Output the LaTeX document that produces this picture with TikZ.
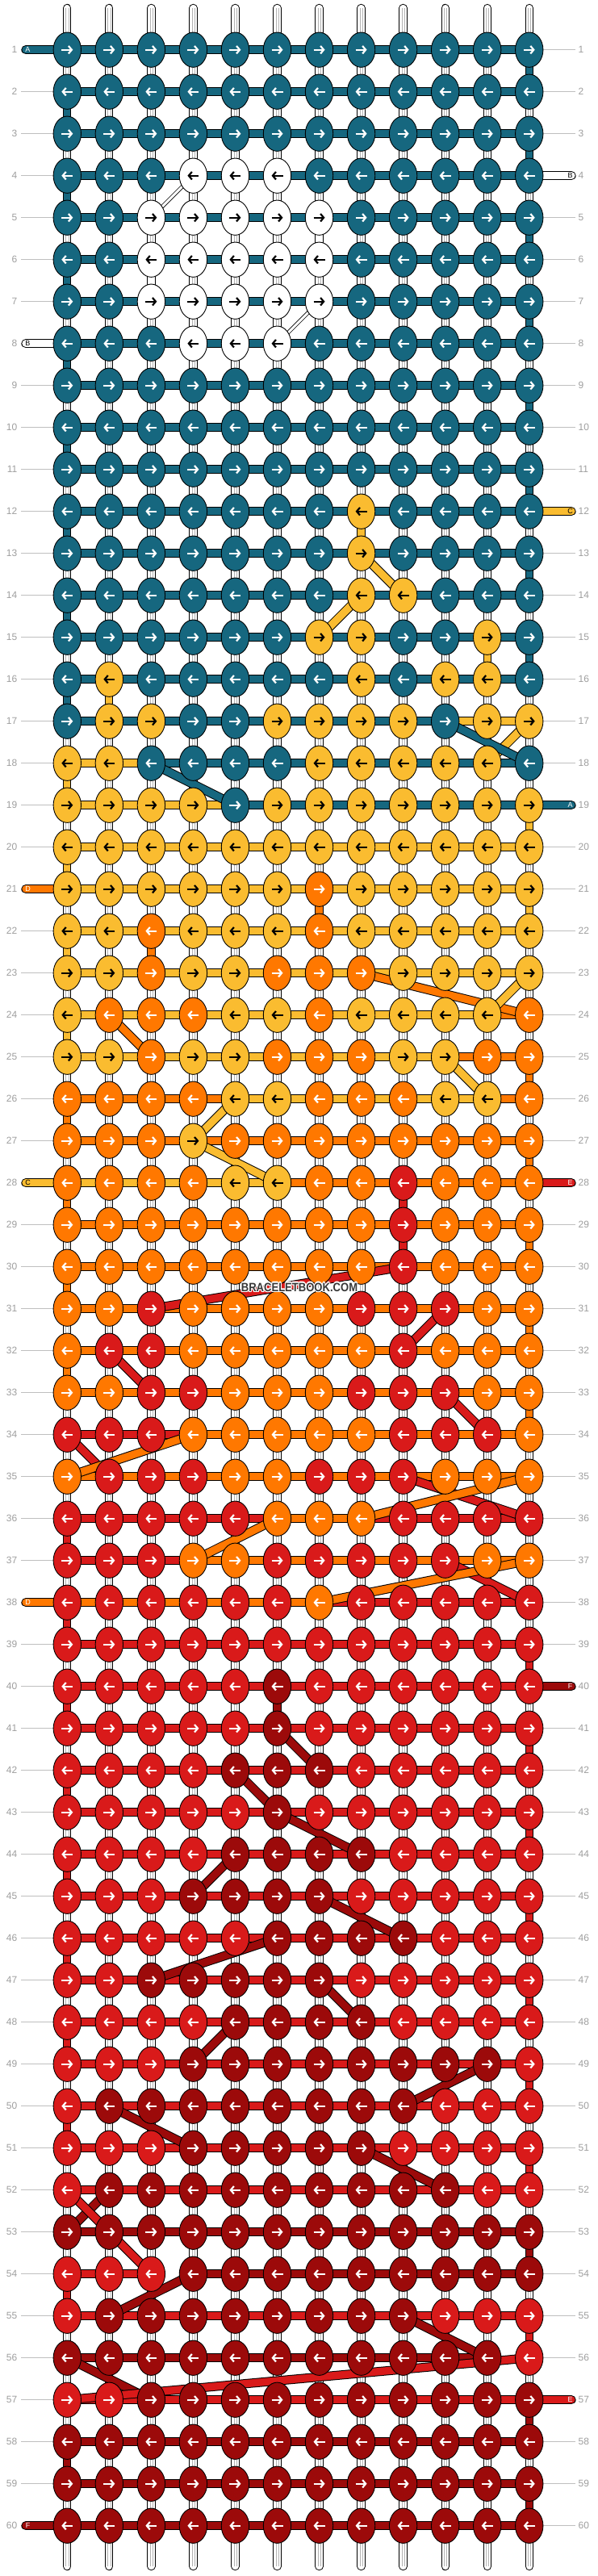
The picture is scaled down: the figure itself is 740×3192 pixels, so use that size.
\documentclass[tikz,border=0pt]{standalone}
\usepackage{fontspec}
\setmainfont{Liberation Sans}
\usetikzlibrary{arrows.meta,shapes.geometric}
\definecolor{cT}{HTML}{16677F}
\definecolor{cW}{HTML}{FFFFFF}
\definecolor{cY}{HTML}{FABC30}
\definecolor{cO}{HTML}{FF7800}
\definecolor{cR}{HTML}{D91A1A}
\definecolor{cD}{HTML}{9C0A0A}
\colorlet{aT}{white}\colorlet{aW}{black}\colorlet{aY}{black}
\colorlet{aO}{white}\colorlet{aR}{white}\colorlet{aD}{white}

\begin{document}
\begin{tikzpicture}[x=1pt, y=-1pt, every node/.style={font=\fontsize{12}{12}\selectfont}]
\tikzstyle{knot}=[draw, ellipse, line width=0.9pt, minimum width=34.4pt, minimum height=43.3pt, inner sep=0pt]
\tikzstyle{band}=[line width=1pt, double distance=9.3pt, line cap=round]
\tikzstyle{vband}=[line width=1pt, double distance=8.3pt, line cap=round]
\tikzstyle{slim}=[line width=0.8pt, double distance=3pt]
\tikzstyle{pin}=[line width=2.2pt, -{Straight Barb[length=4pt,width=9.5pt]}]
\tikzstyle{num}=[text=black!38, inner sep=0pt]
\tikzstyle{tick}=[black!25, line width=0.9pt]
\useasboundingbox (0,0) rectangle (740,3192);

\foreach \r in {1,...,60}{
  \pgfmathsetmacro\y{61.7+(\r-1)*52}
  \coordinate (p-\r-0) at (32,\y);
  \coordinate (p-\r-13) at (708,\y);
  \foreach \c in {1,...,12}
    \coordinate (p-\r-\c) at ({83.3+(\c-1)*52.04},\y);
  \node[num, anchor=east] (ln-\r) at (21.5,\y) {\r};
  \node[num, anchor=west] (rn-\r) at (716.5,\y) {\r};
  \draw[tick] ([xshift=4.5pt]ln-\r.east) -- ([xshift=-17pt]p-\r-1);
  \draw[tick] ([xshift=17pt]p-\r-12) -- ([xshift=-3.5pt]rn-\r.west);
}

\foreach \c in {1,...,12}{
  \coordinate (top-\c) at ({83.3+(\c-1)*52.04},10);
  \coordinate (bot-\c) at ({83.3+(\c-1)*52.04},3180);
  \draw[vband, double=white] (top-\c) -- (bot-\c);
  \draw[black!30, line width=0.5pt] ([xshift=-1.6pt]top-\c) -- ([xshift=-1.6pt]bot-\c);
  \draw[black!30, line width=0.5pt] ([xshift=1.6pt]top-\c) -- ([xshift=1.6pt]bot-\c);
}

\foreach \r/\s/\k in {1/16/T, 18/22/Y, 24/24/Y, 25/33/O, 36/36/R, 38/51/R, 54/55/R, 53/53/D, 57/59/D}
  \foreach \i in {\r,...,\s}{
    \pgfmathtruncatemacro\j{\i+1}
    \pgfmathtruncatemacro\c{mod(\i,2)==1 ? 12 : 1}
    \draw[vband, double=c\k] (p-\i-\c) -- (p-\j-\c);
  }
\foreach \r/\c/\k in {5/7/W, 6/3/W, 12/8/Y, 15/11/Y, 16/2/Y, 21/7/O, 22/3/O, 28/9/R, 29/9/R, 40/6/D}{
  \pgfmathtruncatemacro\j{\r+1}
  \draw[vband, double=c\k] (p-\r-\c) -- (p-\j-\c);
}

\foreach \r/\s/\a/\b/\k in {40/40/6/13/D, 42/42/5/7/D, 44/44/5/8/D, 45/45/4/7/D, 46/46/6/9/D,
    47/47/3/7/D, 48/48/5/8/D, 49/49/4/11/D, 50/50/2/9/D, 51/51/4/8/D, 52/52/2/10/D, 53/53/1/12/D,
    54/54/4/12/D, 55/55/2/9/D, 56/56/1/11/D, 57/57/3/12/D, 58/59/1/12/D, 60/60/0/12/D,
    28/28/9/13/R, 31/31/3/10/R, 32/32/2/9/R, 33/33/3/10/R, 34/34/1/11/R, 35/35/2/9/R, 36/36/1/12/R,
    37/37/1/10/R, 38/52/1/12/R, 54/54/1/3/R, 55/55/1/12/R, 57/57/1/13/R,
    21/21/0/7/O, 22/22/3/7/O, 23/23/3/8/O, 24/24/2/12/O, 25/25/3/12/O, 26/33/1/12/O, 34/34/4/12/O,
    35/35/1/12/O, 36/36/6/8/O, 37/37/4/12/O, 38/38/0/7/O,
    12/12/8/13/Y, 14/14/8/9/Y, 15/15/7/11/Y, 16/16/2/11/Y, 17/17/2/12/Y, 18/18/1/11/Y, 19/23/1/12/Y,
    24/24/1/11/Y, 25/25/1/10/Y, 26/26/5/11/Y, 28/28/0/6/Y,
    4/4/4/13/W, 5/7/3/7/W, 8/8/0/6/W,
    1/1/0/12/T, 2/16/1/12/T, 17/17/1/10/T, 18/18/3/12/T, 19/19/5/13/T}
  \foreach \i in {\r,...,\s}
    \draw[band, double=c\k] (p-\i-\a) -- (p-\i-\b);

\foreach \r/\c/\s/\d/\k in {41/6/42/7/D, 42/5/43/6/D, 43/6/44/8/D, 44/5/45/4/D, 45/7/46/9/D, 46/6/47/3/D,
    47/7/48/8/D, 48/5/49/4/D, 49/11/50/9/D, 50/2/51/4/D, 51/8/52/10/D, 52/2/53/1/D, 54/4/55/2/D,
    55/9/56/11/D, 56/1/57/3/D,
    30/9/31/3/R, 31/10/32/9/R, 32/2/33/3/R, 33/10/34/11/R, 34/1/35/2/R, 35/9/36/12/R, 37/10/38/12/R,
    52/1/54/3/R, 56/12/57/1/R,
    23/8/24/12/O, 24/2/25/3/O, 34/4/35/1/O, 35/12/36/8/O, 36/6/37/4/O, 37/12/38/7/O,
    13/8/14/9/Y, 14/8/15/7/Y, 17/12/18/11/Y, 23/12/24/11/Y, 25/10/26/11/Y, 26/5/27/4/Y, 27/4/28/6/Y,
    17/10/18/12/T, 18/3/19/5/T}
  \draw[band, double=c\k] (p-\r-\c) -- (p-\s-\d);
\draw[slim, double=white] (p-4-4) -- (p-5-3);
\draw[slim, double=white] (p-7-7) -- (p-8-6);

\foreach \r/\ks in {
  1/{T,T,T,T,T,T,T,T,T,T,T,T}, 2/{T,T,T,T,T,T,T,T,T,T,T,T}, 3/{T,T,T,T,T,T,T,T,T,T,T,T},
  4/{T,T,T,W,W,W,T,T,T,T,T,T}, 5/{T,T,W,W,W,W,W,T,T,T,T,T}, 6/{T,T,W,W,W,W,W,T,T,T,T,T},
  7/{T,T,W,W,W,W,W,T,T,T,T,T}, 8/{T,T,T,W,W,W,T,T,T,T,T,T}, 9/{T,T,T,T,T,T,T,T,T,T,T,T},
  10/{T,T,T,T,T,T,T,T,T,T,T,T}, 11/{T,T,T,T,T,T,T,T,T,T,T,T}, 12/{T,T,T,T,T,T,T,Y,T,T,T,T},
  13/{T,T,T,T,T,T,T,Y,T,T,T,T}, 14/{T,T,T,T,T,T,T,Y,Y,T,T,T}, 15/{T,T,T,T,T,T,Y,Y,T,T,Y,T},
  16/{T,Y,T,T,T,T,T,Y,T,Y,Y,T}, 17/{T,Y,Y,T,T,Y,Y,Y,Y,T,Y,Y}, 18/{Y,Y,T,T,T,T,Y,Y,Y,Y,Y,T},
  19/{Y,Y,Y,Y,T,Y,Y,Y,Y,Y,Y,Y}, 20/{Y,Y,Y,Y,Y,Y,Y,Y,Y,Y,Y,Y}, 21/{Y,Y,Y,Y,Y,Y,O,Y,Y,Y,Y,Y},
  22/{Y,Y,O,Y,Y,Y,O,Y,Y,Y,Y,Y}, 23/{Y,Y,O,Y,Y,O,O,O,Y,Y,Y,Y}, 24/{Y,O,O,O,Y,Y,O,Y,Y,Y,Y,O},
  25/{Y,Y,O,Y,Y,O,O,O,Y,Y,O,O}, 26/{O,O,O,O,Y,Y,O,O,O,Y,Y,O}, 27/{O,O,O,Y,O,O,O,O,O,O,O,O},
  28/{O,O,O,O,Y,Y,O,O,R,O,O,O}, 29/{O,O,O,O,O,O,O,O,R,O,O,O}, 30/{O,O,O,O,O,O,O,O,R,O,O,O},
  31/{O,O,R,O,O,O,O,R,R,R,O,O}, 32/{O,R,R,O,O,O,O,O,R,O,O,O}, 33/{O,O,R,R,O,O,O,R,R,R,O,O},
  34/{R,R,R,O,O,O,O,O,R,R,R,O}, 35/{O,R,R,R,O,O,R,R,R,O,O,O}, 36/{R,R,R,R,R,O,O,O,R,R,R,R},
  37/{R,R,R,O,O,R,R,R,R,R,O,O}, 38/{R,R,R,R,R,R,O,R,R,R,R,R}, 39/{R,R,R,R,R,R,R,R,R,R,R,R},
  40/{R,R,R,R,R,D,R,R,R,R,R,R}, 41/{R,R,R,R,R,D,R,R,R,R,R,R}, 42/{R,R,R,R,D,D,D,R,R,R,R,R},
  43/{R,R,R,R,R,D,R,R,R,R,R,R}, 44/{R,R,R,R,D,D,D,D,R,R,R,R}, 45/{R,R,R,D,D,D,D,R,R,R,R,R},
  46/{R,R,R,R,R,D,D,D,D,R,R,R}, 47/{R,R,D,D,D,D,D,R,R,R,R,R}, 48/{R,R,R,R,D,D,D,D,R,R,R,R},
  49/{R,R,R,D,D,D,D,D,D,D,D,R}, 50/{R,D,D,D,D,D,D,D,D,R,R,R}, 51/{R,R,R,D,D,D,D,D,R,R,R,R},
  52/{R,D,D,D,D,D,D,D,D,D,R,R}, 53/{D,D,D,D,D,D,D,D,D,D,D,D}, 54/{R,R,R,D,D,D,D,D,D,D,D,D},
  55/{R,D,D,D,D,D,D,D,D,R,R,R}, 56/{D,D,D,D,D,D,D,D,D,D,D,R}, 57/{R,R,D,D,D,D,D,D,D,D,D,D},
  58/{D,D,D,D,D,D,D,D,D,D,D,D}, 59/{D,D,D,D,D,D,D,D,D,D,D,D}, 60/{D,D,D,D,D,D,D,D,D,D,D,D}}{
  \pgfmathsetmacro\dir{mod(\r,2)==1 ? 1 : -1}
  \foreach \k [count=\c] in \ks {
    \node[knot, fill=c\k] (k-\r-\c) at (p-\r-\c) {};
    \draw[pin, a\k] ([xshift={-7pt*\dir}]k-\r-\c.center) -- ([xshift={7pt*\dir}]k-\r-\c.center);
  }
}

\foreach \r/\c/\t/\k in {1/0/A/T, 8/0/B/W, 21/0/D/O, 28/0/C/Y, 38/0/D/O, 60/0/F/D,
    4/13/B/W, 12/13/C/Y, 19/13/A/T, 28/13/E/R, 40/13/F/D, 57/13/E/R}{
  \pgfmathsetmacro\sh{\c==0 ? 2.5 : -1.5}
  \node[font=\fontsize{9}{9}\selectfont, text=a\k, inner sep=0pt] (l-\r-\c) at ([xshift=\sh pt]p-\r-\c) {\t};
}

\foreach \a in {0,45,...,315}
  \node[font=\bfseries\fontsize{15}{15}\selectfont, text=white, xscale=0.87] at ([shift={(\a:1.2)}]371,1595) {BRACELETBOOK.COM};
\node[font=\bfseries\fontsize{15}{15}\selectfont, text=black!78, xscale=0.87] (wm) at (371,1595) {BRACELETBOOK.COM};
\end{tikzpicture}
\end{document}
